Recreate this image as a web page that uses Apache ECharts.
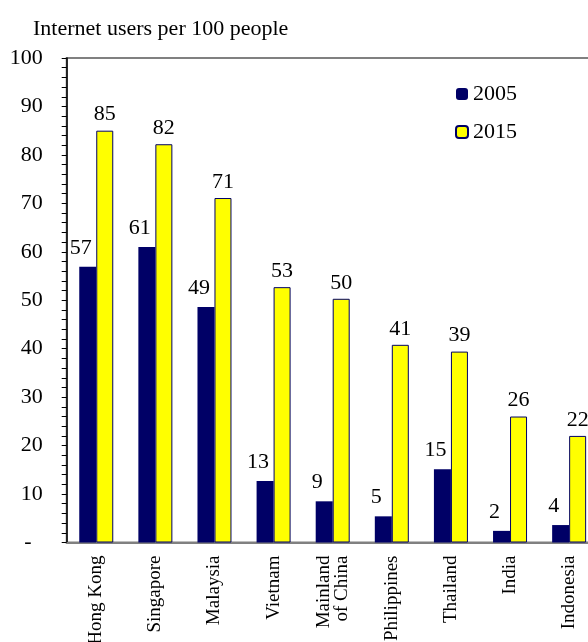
<!DOCTYPE html>
<html>
<head>
<meta charset="utf-8">
<script src="https://cdn.jsdelivr.net/npm/echarts@6/dist/echarts.min.js"></script>
<style>html,body{margin:0;padding:0;background:#fff;}#c{width:588px;height:642px;}</style>
</head>
<body>
<div id="c"></div>
<script>
const categories = ['Hong Kong','Singapore','Malaysia','Vietnam','Mainland\nof China','Philippines','Thailand','India','Indonesia'];
const values2005 = [56.9, 61.0, 48.6, 12.7, 8.5, 5.4, 15.1, 2.4, 3.6];
const values2015 = [85.0, 82.2, 71.1, 52.7, 50.3, 40.8, 39.4, 26.0, 22.0];
const yTicks = [0, 10, 20, 30, 40, 50, 60, 70, 80, 90, 100];

const FONT = '"Liberation Serif", "Times New Roman", serif';
const chart = echarts.init(document.getElementById('c'));
chart.setOption({
  animation: false,
  backgroundColor: '#ffffff',
  title: {
    text: 'Internet users per 100 people',
    left: 28, top: 13,
    textStyle: {fontFamily: FONT, fontSize: 22, fontWeight: 'normal', color: '#000'}
  },
  legend: {
    orient: 'vertical',
    left: 450, top: 78,
    itemWidth: 12, itemHeight: 12, itemGap: 16,
    textStyle: {fontFamily: FONT, fontSize: 22, color: '#000'},
    data: ['2005', '2015']
  },
  grid: {
    left: 66.7, top: 58, width: 532, bottom: 99.5,
    outerBoundsMode: 'none',
    show: true, borderColor: '#808080', borderWidth: 2, backgroundColor: 'transparent'
  },
  xAxis: {
    type: 'category',
    data: categories,
    axisLine: {lineStyle: {color: '#808080', width: 2}},
    axisTick: {show: false},
    axisLabel: {
      interval: 0, rotate: 90, margin: 13,
      fontFamily: FONT, fontSize: 19, color: '#000', lineHeight: 18
    }
  },
  yAxis: {
    type: 'value',
    min: yTicks[0], max: yTicks[yTicks.length - 1], interval: 10,
    axisLine: {show: true, lineStyle: {color: '#000', width: 1.5}},
    axisTick: {show: true, inside: false, length: 5, lineStyle: {color: '#000'}},
    minorTick: {show: true, splitNumber: 5, length: 5, lineStyle: {color: '#000'}},
    splitLine: {show: false},
    axisLabel: {
      margin: 24, fontFamily: FONT, fontSize: 22, color: '#000',
      formatter: v => v === 0 ? '-  ' : String(v)
    }
  },
  series: [
    {
      name: '2005', type: 'bar', data: values2005,
      barWidth: 17, barGap: '0%',
      itemStyle: {color: '#000066'},
      label: {
        show: true, position: 'top', distance: 6, offset: [-7, -2],
        fontFamily: FONT, fontSize: 22, color: '#000',
        formatter: p => Math.round(p.value)
      }
    },
    {
      name: '2015', type: 'bar', data: values2015,
      barWidth: 17,
      itemStyle: {color: '#ffff00', borderColor: '#000066', borderWidth: 1},
      label: {
        show: true, position: 'top', distance: 5,
        fontFamily: FONT, fontSize: 22, color: '#000',
        formatter: p => Math.round(p.value)
      }
    }
  ]
});
</script>
</body>
</html>
